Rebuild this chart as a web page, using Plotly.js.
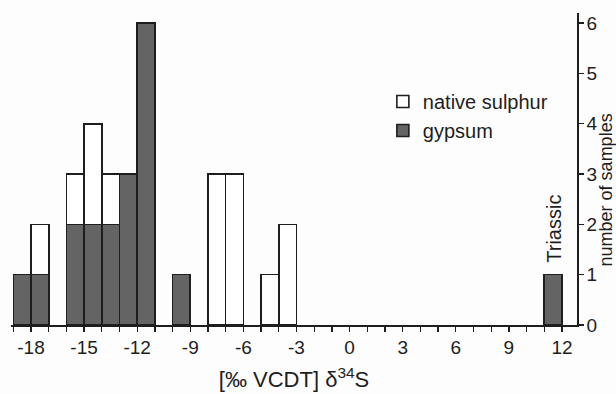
<!DOCTYPE html>
<html>
<head>
<meta charset="utf-8">
<script src="https://cdn.plot.ly/plotly-3.0.1.min.js"></script>
<style>html,body{margin:0;padding:0;background:#fdfdfd;}#chart{width:616px;height:394px;}</style>
</head>
<body>
<div id="chart"></div>
<script>
// Bin lower edges (‰), each bin is 1‰ wide
const binStart = [-19, -18, -16, -15, -14, -13, -12, -10, -8, -7, -5, -4, 11];
const gypsum   = [  1,   1,   2,   2,   2,   3,   6,   1, null, null, null, null, 1];
const nativeS  = [null, 1,   1,   2,   1, null, null, null, 3,   3,   1,   2, null];
const xTickVals = [-18, -15, -12, -9, -6, -3, 0, 3, 6, 9, 12];
const xTickText = ['-18', '-15', '-12', '-9', '-6', '-3', '0', '3', '6', '9', '12'];
const yTickVals = [0, 1, 2, 3, 4, 5, 6];

const centers = binStart.map(v => v + 0.5);
const font = 'Liberation Sans, Arial, sans-serif';
const ink = '#1e1e1e';

const traces = [
  {type:'bar', name:'gypsum', x:centers, y:gypsum, width:1,
   marker:{color:'#646464', line:{color:ink, width:1.6}}},
  {type:'bar', name:'native sulphur', x:centers, y:nativeS, width:1,
   marker:{color:'#ffffff', line:{color:ink, width:1.6}}}
];

const layout = {
  width:616, height:394,
  margin:{l:11, r:39, t:13, b:69},
  paper_bgcolor:'#fdfdfd', plot_bgcolor:'#fdfdfd',
  barmode:'stack',
  showlegend:true,
  legend:{x:0.657, y:0.779, xanchor:'left', yanchor:'top', traceorder:'reversed',
          itemwidth:30, font:{family:font, size:20, color:ink}, bgcolor:'rgba(0,0,0,0)', tracegroupgap:0},
  font:{family:font, color:ink},
  xaxis:{range:[-19.13, 12.85], tickvals:xTickVals, ticktext:xTickText,
         ticks:'outside', ticklen:5, tickwidth:1.3, tickcolor:ink,
         minor:{dtick:1, tick0:0, ticks:'outside', ticklen:5, tickwidth:1.3, tickcolor:ink, showgrid:false},
         showline:true, linecolor:ink, linewidth:1.6, showgrid:false, zeroline:false,
         tickfont:{family:font, size:19, color:ink},
         title:{text:'[‰ VCDT] δ<sup>34</sup>S', font:{family:font, size:22, color:ink}, standoff:14}},
  yaxis:{range:[0, 6.2], side:'right', tickvals:yTickVals,
         ticks:'outside', ticklen:5, tickwidth:1.3, tickcolor:ink, ticklabelstandoff:-1,
         showline:true, linecolor:ink, linewidth:1.6, showgrid:false, zeroline:false,
         tickfont:{family:font, size:19, color:ink}},
  annotations:[
    {text:'number of samples', xref:'paper', yref:'paper', x:1.0504, y:0.433,
     xanchor:'center', yanchor:'middle',
     textangle:-90, showarrow:false, font:{family:font, size:18, color:ink}},
    {text:'Triassic', xref:'x', yref:'y', x:11.5, y:1.2, xanchor:'center', yanchor:'bottom',
     textangle:-90, showarrow:false, font:{family:font, size:20, color:ink}}
  ]
};

Plotly.newPlot('chart', traces, layout, {displayModeBar:false, staticPlot:true});
</script>
</body>
</html>
